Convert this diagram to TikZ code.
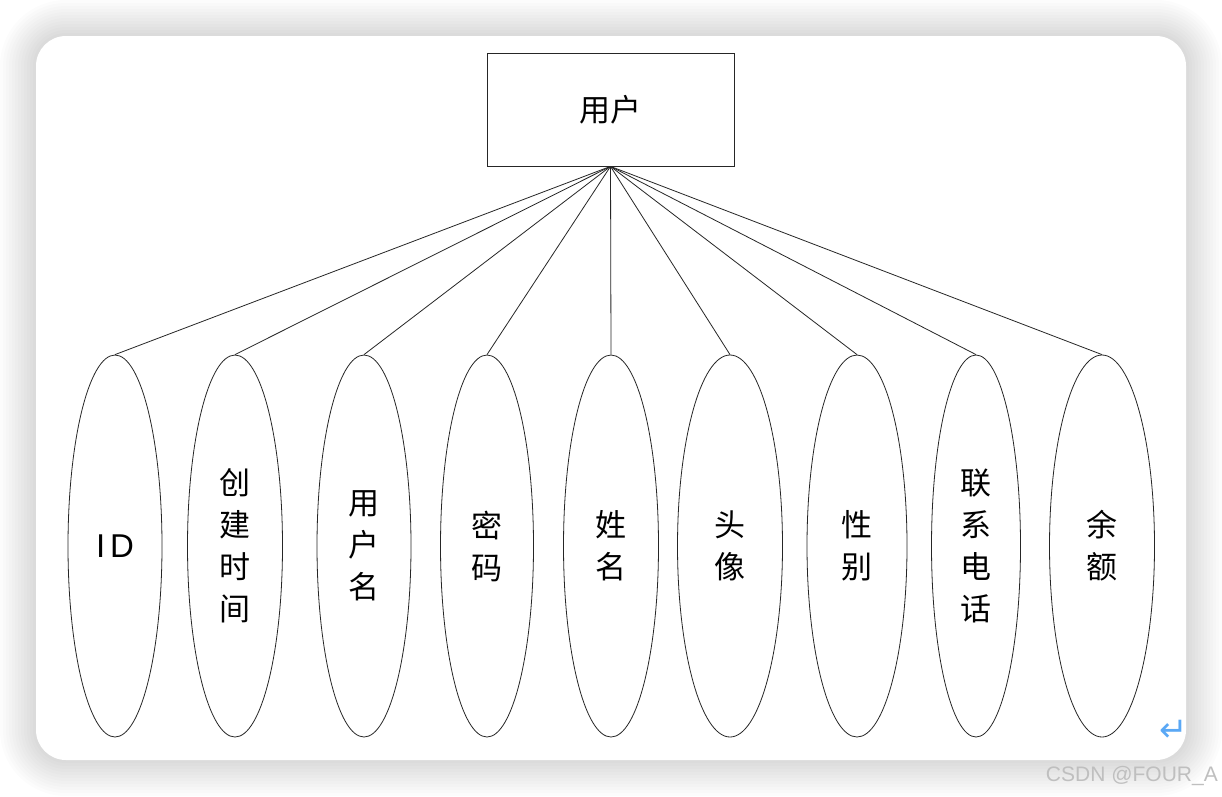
\documentclass[tikz,border=0pt]{standalone}
\usepackage{fontspec}
\setmainfont{Liberation Sans}
\newfontfamily\cjk{Noto Sans CJK SC}
\newfontfamily\symfont{DejaVu Sans}
\usetikzlibrary{shapes.geometric}
\definecolor{retblue}{RGB}{90,168,245}

\tikzset{
  entity/.style={draw=black!85, line width=0.8pt, minimum width=247pt, minimum height=113pt, inner sep=0pt,
    font=\cjk\fontsize{31}{42}\selectfont},
  attr/.style={draw=black!85, line width=0.8pt, ellipse, minimum height=382pt, inner sep=0pt, align=center,
    font=\cjk\fontsize{31}{42}\selectfont},
  link/.style={line width=0.8pt, black!85},
}

\begin{document}
\begin{tikzpicture}[x=1pt, y=-1pt]
 \useasboundingbox (0,0) rectangle (1222,796);
 \fill[white] (0,0) rectangle (1222,796);
 % card with soft shadow
 \foreach \i in {12,11,...,1}
   \fill[black, opacity=0.013, rounded corners=30+\i*3] (36-\i*3,36-\i*3) rectangle (1186+\i*3,760+\i*3);
 \fill[white, rounded corners=30] (36,36) rectangle (1186,760);
 % entity
 \node[entity] (user) at (610.5,109.5) {用户};
 % attributes
 \node[attr, minimum width=94pt] (id) at (115,546) {\fontspec{Liberation Sans}\fontsize{33}{36}\selectfont I\kern5pt D};
 \node[attr, minimum width=95pt] (ctime) at (235,546) {创\\建\\时\\间};
 \node[attr, minimum width=94pt] (uname) at (364,546) {用\\户\\名};
 \node[attr, minimum width=93pt] (pwd) at (487,546) {密\\码};
 \node[attr, minimum width=95pt] (name) at (611,546) {姓\\名};
 \node[attr, minimum width=105pt] (avatar) at (730,546) {头\\像};
 \node[attr, minimum width=100pt] (sex) at (857,546) {性\\别};
 \node[attr, minimum width=89pt] (phone) at (976,546) {联\\系\\电\\话};
 \node[attr, minimum width=105pt] (money) at (1102,546) {余\\额};
 % connectors
 \draw[link] (user.south) -- (id.north);
 \draw[link] (user.south) -- (ctime.north);
 \draw[link] (user.south) -- (uname.north);
 \draw[link] (user.south) -- (pwd.north);
 \draw[link] (user.south) -- (name.north);
 \draw[link] (user.south) -- (avatar.north);
 \draw[link] (user.south) -- (sex.north);
 \draw[link] (user.south) -- (phone.north);
 \draw[link] (user.south) -- (money.north);
 % marks
 \node[text=retblue, font=\symfont\fontsize{34}{34}\selectfont, inner sep=0pt] (ret) at (1174,731) {↵};
 \node[text=black!25, font=\fontsize{21}{21}\selectfont, anchor=east, inner sep=0pt] (mark) at (1218,776) {CSDN @FOUR\_A};
\end{tikzpicture}
\end{document}
